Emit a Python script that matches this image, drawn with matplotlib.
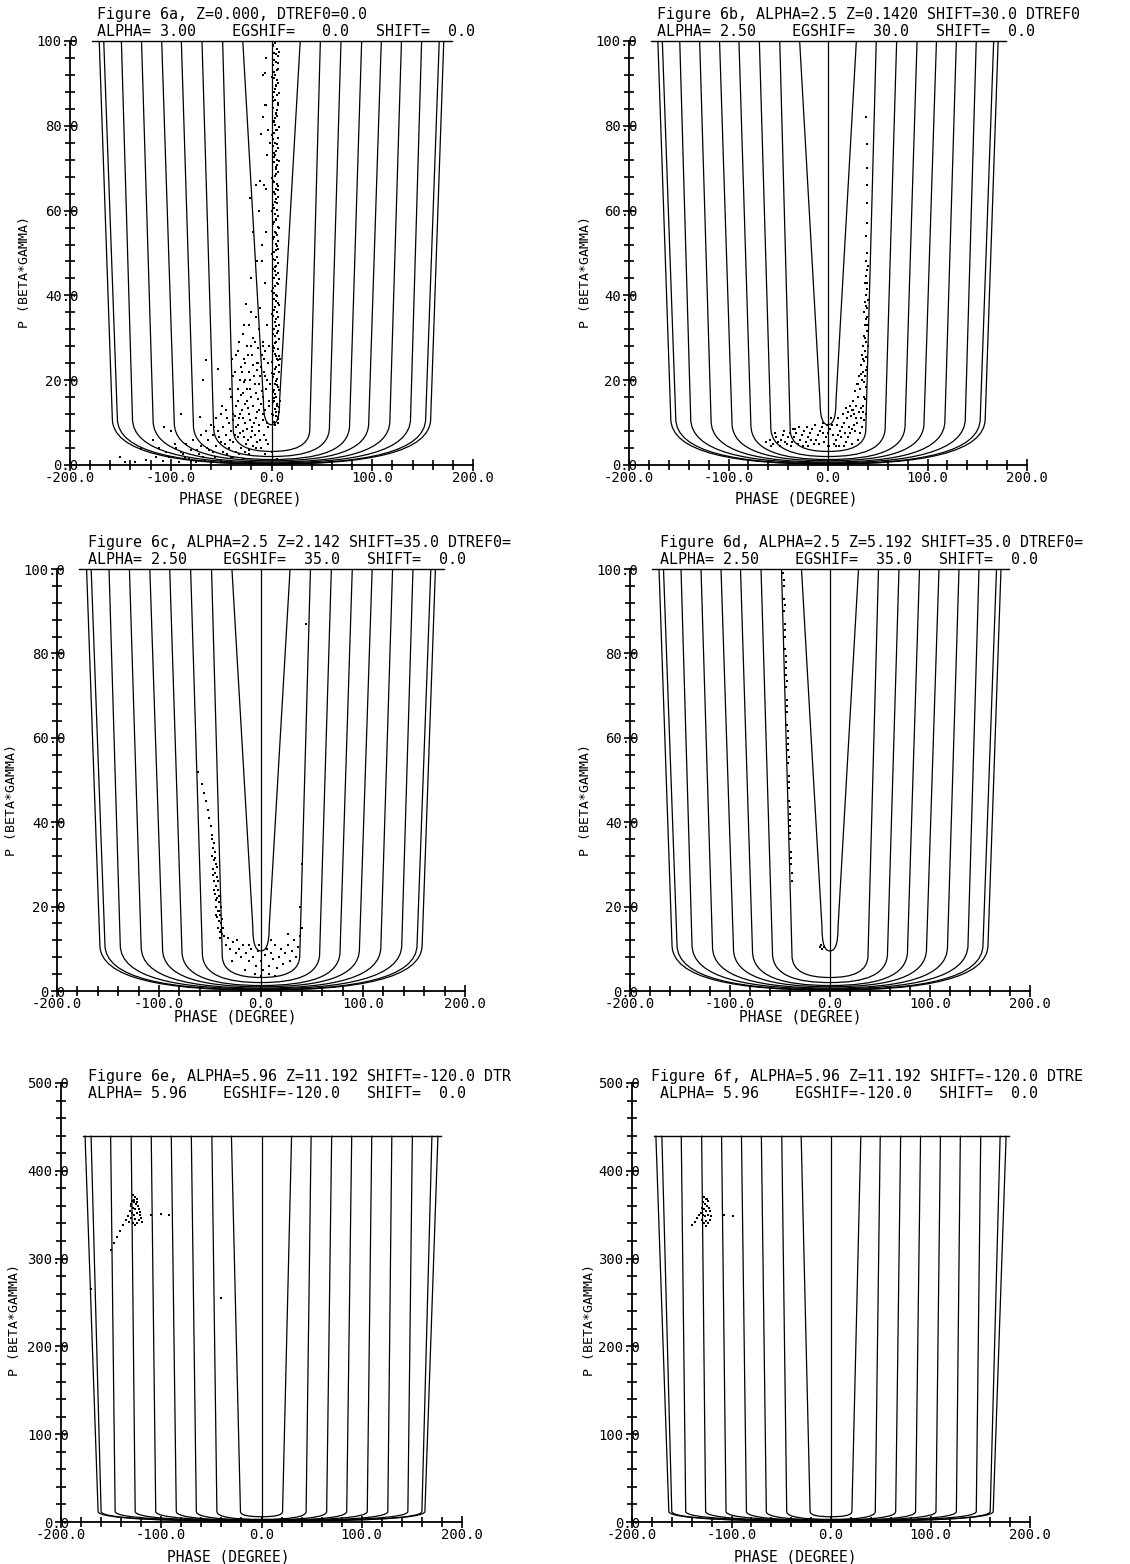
import matplotlib
matplotlib.use('Agg')
import matplotlib.pyplot as plt
from matplotlib.path import Path
from matplotlib.patches import PathPatch
from matplotlib.ticker import MultipleLocator, FormatStrFormatter

plt.rcParams['font.family'] = ['DejaVu Sans Mono']

W, H = 1130, 1564

# ---- trajectory curves (half widths read at top / knee, heights) ----
# panels a-d (top of curves at p=100)
TOP_AD = [171, 166.5, 149, 129, 109, 89.5, 69, 48.5, 28.5]
KNEE_AD = [158, 153, 138, 117.5, 96.5, 77.5, 57.5, 38, 8]
KNEE_P_AD = [11, 11, 11, 10.5, 10, 9.5, 9, 8.5, 15]
FLOOR_AD = [0.2, 0.3, 0.5, 0.7, 1.0, 1.3, 2.0, 3.2, 9.5]
# panels e-f (top of curves at p=440)
TOP_EF = [176, 170, 150.5, 130, 110, 90, 70, 49.5, 30]
KNEE_EF = [163, 160, 146, 126, 105.5, 85, 65, 44.5, 21]
KNEE_P_EF = [12, 12, 12, 12, 12, 12, 12, 12, 12]
FLOOR_EF = [1, 1, 1.5, 1.5, 2, 2, 2.5, 3, 6]

# ---- particle dots ----
A_PHASE = [3, 5, 2, 6, 4, 1.5, 5.5, 3.5, 2.5, 6.5,
           4.5, 2, 5, 3, 6, 1, 4, 5.5, 2.5, 3.5,
           5, 2, 6, 3.5, 1.5, 4.5, 3, 5.5, 2, 4,
           6, 3, 1.5, 5, 4, 2.5, 6.5, 3.5, 1, 5,
           3, 4.5, 2, 6, 3.5, 5, 1.5, 4, 6.5, 2.5,
           5.5, 3, 4, 1.5, 6, 2.5, 5, 3.5, 0.5, 4.5,
           2, 6, 3.5, 5, 1, 4, 7, 2.5, 5.5, 3,
           4.5, 1.5, 6, 3, 5, 0.5, 4, 7, 2, 5.5,
           3, 6.5, 1, 4.5, 2.5, 5.5, 3.5, 0.5, 6, 2,
           1.5, 4, 6, 2, 5, 3.5, 1, 6, 4, 2,
           4, 1.5, 6, 2.5, 5.5, 4.5, 2, 6, 4.5, 2,
           6, 1, 4.5, 6, 4.5, 1, 3, 4.5, 6, 2,
           4.5, 2, 6, 4.5, 1, 3.5, 1, 6, 3, 1,
           5, 3, 1, 4, 6.5, 0, 7.5, 2, 7, 4,
           1, 7, 2.5, 6.5, 0.5, 4.5, 7, 1.5, 5, 3,
           7.5, 0.5, 5, 2.5, 7, 4, 0.5, 6.5, 3, 5.5,
           0.5, 4, 7, 2.5, 5.5, 0.5, 6.5, 3, 7, 1.5,
           5, 7.5, 0.5, 3, 6, 7.5, 2, 4.5, 7.5, 0,
           4, 7, 2, 5, 1.5, 7, 3, 6, 8, 8,
           -5, -8, -6, -10, -4, -7, -12, -5, -9, -6, -11, -4, -8, -13, -6,
           -6.6, -5, -8.3, -3.3, -1.7, -11.6, -15, -5, -21.6, -18, -14, -20, -9,
           -25, -20, -22, -15, -28, -18, -12, -32, -24, -8,
           -35, -27, -19, -14, -30, -22, -10, -38, -26, -17,
           -12, -33, -21, -28, -15, -40, -8, -24, -35, -18,
           -45, -29, -12, -50, -38, -22, -55, -32, -15, -42,
           -26, -60, -48, -35, -19, -65, -53, -40, -28, -12,
           -70, -58, -45, -33, -20, -78, -63, -50, -38, -25,
           -85, -70, -55, -42, -30, -15, -95, -80, -62, -48,
           -35, -22, -105, -88, -72, -56, -40, -28, -115, -98,
           -82, -66, -50, -125, -108, -92, -75, -60, -135, -145,
           -65, -53, -68, -107, -71, -90, -100, -118, -130, -150,
           -8, -5, -3, -10, -6, 0, 5, -2, -4, -7,
           -2, -6, -9, -13, -16, -20, -23, -26, -29, -31,
           -3, -7, -11, -14, -18, -21, -24, -27, -30, -33,
           -1, -5, -9, -13, -16, -20, -23, -26, -31, -36,
           -2, -6, -10, -14, -17, -21, -24, -28, -33, -38,
           -4, -8, -12, -16, -19, -23, -27, -31, -36, -41,
           -3, -7, -11, -14, -18, -22, -26, -32, -38, -44,
           -46, -52, -57, -44, -49, -41, -36, -39, -33, -27,
           -58, -64, -68, -74, -80, -86, -90, -96, -102, -112]
A_P = [99.5, 98.2, 97.1, 96.4, 95.0, 94.3, 93.1, 92.0, 91.2, 90.1,
       89.3, 88.0, 87.2, 86.1, 85.4, 84.2, 83.0, 82.3, 81.1, 80.2,
       79.0, 78.4, 77.2, 76.0, 75.3, 74.1, 73.2, 72.0, 71.4, 70.3,
       69.1, 68.2, 67.0, 66.3, 65.1, 64.4, 63.2, 62.0, 61.3, 60.1,
       59.2, 58.0, 57.3, 56.1, 55.0, 54.2, 53.4, 52.1, 51.0, 50.3,
       49.1, 48.3, 47.0, 46.2, 45.4, 44.1, 43.0, 42.3, 41.1, 40.0,
       39.2, 38.1, 37.3, 36.0, 35.2, 34.4, 33.1, 32.0, 31.2, 30.4,
       29.1, 28.0, 27.3, 26.2, 25.0, 24.3, 23.1, 22.0, 21.4, 20.2,
       19.0, 18.3, 17.1, 16.0, 15.2, 14.4, 13.1, 12.0, 11.3, 10.2,
       98.8, 96.9, 94.8, 92.6, 90.7, 88.6, 86.7, 84.8, 82.7, 80.8,
       78.9, 76.8, 74.7, 72.6, 70.8, 68.7, 66.8, 64.9, 62.7, 60.6,
       58.7, 56.8, 54.7, 52.8, 50.8, 48.7, 46.8, 44.7, 42.8, 40.6,
       38.7, 36.6, 34.8, 32.7, 30.9, 28.7, 26.8, 24.7, 22.6, 20.8,
       18.8, 16.7, 14.8, 12.6, 10.8, 35.7, 25.6, 17.7, 13.6, 11.6,
       99, 97.5, 95.5, 93.5, 91.5, 89.7, 87.8, 85.9, 83.8, 81.9,
       79.8, 77.9, 75.8, 73.6, 71.8, 69.7, 67.6, 65.7, 63.8, 61.7,
       59.8, 57.7, 55.8, 53.7, 51.7, 49.8, 47.6, 45.7, 43.8, 41.7,
       39.8, 37.7, 35.5, 33.8, 31.7, 29.8, 27.7, 25.8, 23.7, 21.8,
       19.8, 17.7, 15.7, 13.8, 11.7, 12.5, 9.5, 9.8, 15, 25,
       96, 92, 85, 78, 73, 66, 60, 55, 48, 43, 37, 33, 28, 24, 21,
       92.5, 85, 82, 79, 76, 67, 66, 65, 63, 55, 48, 44, 52,
       38, 36, 33, 35, 31, 30, 32, 29, 28, 29,
       26, 25, 26, 24, 23, 22, 23, 21, 20, 21,
       19, 18, 18, 17, 17, 16, 16, 15, 14, 14,
       13, 13, 13, 12, 12, 12, 11, 11, 11, 10,
       10, 9.5, 9, 9, 9, 8, 8, 8, 8, 8,
       7, 7, 7, 6.5, 6.5, 6, 6, 5.5, 5.5, 5,
       5, 4.5, 4.5, 4, 4, 4, 4, 3.5, 3.5, 3,
       3, 2.5, 3, 2.5, 2.5, 2, 2, 1.5, 2, 1.8,
       1.5, 1.2, 1, 1.2, 1, 0.8, 0.7, 0.6, 0.8, 0.6,
       24.7, 22.7, 20, 9, 11.4, 12, 8, 6, 4, 2,
       12, 6, 9, 4, 2.5, 3, 1.5, 15, 20, 25,
       28, 27, 26, 27.5, 29, 28, 26, 24, 22, 20,
       24, 22, 21, 22.5, 23.5, 20, 18, 19.5, 16.5, 15,
       19, 18, 17.5, 15.5, 19, 16, 13.5, 14.5, 12, 11.5,
       14, 13, 14.5, 12.5, 10, 10.5, 8.5, 11, 9.5, 10.5,
       10, 10.5, 9.5, 7, 8, 6, 6.5, 7.5, 7, 6,
       5, 7, 6, 5.5, 4.5, 3.5, 3, 2.5, 2, 2.5,
       5, 6.5, 9, 11, 14, 18, 22, 25, 27, 33,
       3, 4, 2, 3.5, 1, 2, 3, 5, 2, 4]

B_PHASE = [-62, -58, -55, -52, -50, -47, -45, -43, -40, -38,
           -36, -34, -32, -30, -28, -26, -24, -22, -20, -18,
           -16, -14, -12, -10, -8, -6, -4, -2, 0, 2,
           4, 6, 8, 10, 12, 14, 16, 18, 20, 22,
           24, 26, 28, 30, 32, 34, 36, 38, -5, 3,
           10, 15, 20, 25, 8, 16, 24, -20, -35, 0,
           22, 25, 28, 30, 27, 32, 29, 34, 31, 35,
           33, 36, 34, 37, 35, 38, 36, 39, 37, 38,
           36, 39, 37, 38, 39, 37, 38, 39, 38, 39,
           24, 33, 36, 38, 37, 39, 38, 40, 39, 40,
           26, 35, 18,
           -57, -53, -48, -44, -41, -37, -33, -29, -25, -21,
           -17, -13, -9, -5, -1, 1, 5, 9, 11, 13,
           17, 19, 21, 23, 27, 29, 31, 33, 35, 37,
           30, 33, 36, 38, 35, 37, 39, 38, 39, 40,
           38, 39, 39, 39, 39, 39, 38]
B_P = [5.5, 6, 5, 6.5, 5.5, 6, 7, 5.5, 6.5, 7.5,
       5.5, 6.5, 7.5, 5, 6, 7, 8, 5.5, 6.5, 7.5,
       8.5, 5, 6, 7, 8, 9, 5.5, 6.5, 7.5, 8.5,
       9.5, 5, 6, 7, 8, 9, 10, 5.5, 6.5, 7.5,
       8.5, 9.5, 11, 6, 7.5, 9, 10.5, 12, 10, 11,
       11, 12, 12.5, 13, 4.5, 4.5, 5, 4.5, 8.5, 4.5,
       14, 15, 14, 16, 17.5, 18, 19, 20, 21, 22,
       23.5, 24.5, 26, 27, 28, 29, 30.5, 31.5, 33, 34.5,
       36, 37, 38.5, 40, 41.5, 43, 44.5, 46, 48, 50,
       13, 13.5, 16, 18.5, 21, 23, 25.5, 28, 35, 39,
       12, 12.5, 13.5,
       4.5, 7.5, 4.5, 8, 5, 4.5, 8.5, 9, 4.5, 9,
       6, 9.5, 5, 7.5, 9.5, 4.5, 7, 9.5, 4.5, 6.5,
       7.5, 11, 9, 11.5, 8, 10, 12.5, 11, 14, 15.5,
       19, 21.5, 19.5, 22.5, 25, 30, 33, 37.5, 43, 47,
       54, 57, 61.7, 66, 70, 75.8, 82]

C_PHASE = [-62, -58, -56, -54, -52, -51, -49, -48,
           -48, -46, -47, -45, -48, -46, -44, -47, -45, -43,
           -46, -44, -42, -45, -43, -41, -44, -42, -40, -43,
           -41, -39, -42, -40, -38, -36, -45, -43, -46, -41,
           -39, -44, -38, -40, -37, -47, -42, -44, -41, -39,
           -34, -30, -27, -25, -22, -20, -18, -15, -12, -10,
           -8, -5, -3, 0, 2, 4, 6, 8, 10, 12,
           14, 16, 18, 20, 22, 24, 26, 28, 30, 32,
           34, 36, 38, -28, -16, -6, 0, 8, 14, -2,
           -32, -24, -12, 10, 26, 40, 38, 40, 44]
C_P = [52, 49, 47, 45, 43, 41, 39, 37,
       36, 35, 34, 33, 32, 31, 30, 29, 28, 27,
       26, 25, 24, 23, 22, 21, 20, 19, 18, 17.5,
       16.5, 16, 15, 14, 13.5, 13, 31.5, 29.5, 24, 22.5,
       20, 18, 17, 12.5, 15, 27.5, 26, 21.5, 19, 14.5,
       11, 10, 11.5, 9, 10, 8, 11, 9, 7, 10,
       8, 6, 9.5, 7, 5, 8.5, 10, 6, 9, 7.5,
       11, 5.5, 8, 10, 6.5, 9, 11, 7, 9.5, 12,
       8, 10.5, 13, 7, 5, 4, 3.5, 4, 3.5, 11,
       12.5, 12, 11, 12, 13.5, 15, 20, 30, 87]

D_PHASE = [-47, -46.5, -46, -46, -45.5, -45, -45, -44.5, -44, -44,
           -43.5, -43, -43, -42.5, -42, -42, -41.5, -41, -41, -40.5,
           -40, -40, -39.5, -39, -38.5, -46, -45.5, -45, -44, -43.5,
           -43, -42.5, -41.5, -41, -40.5, -40, -39, -44.5, -42, -40.5,
           -38, -10, -8, -6, -9]
D_P = [99, 96, 93, 90, 87, 84, 81, 78, 75, 72,
       69, 66, 63, 60, 57, 54, 51, 48, 45, 42,
       39, 36, 33, 30, 28, 97.5, 91.5, 85.5, 79.5, 73.5,
       67.5, 61.5, 55.5, 49.5, 43.5, 37.5, 31.5, 76.5, 58.5, 40.5,
       26, 10.5, 10, 10.5, 11]

E_PHASE = [-128, -126, -124, -129, -127, -125, -123, -130, -128, -126,
           -122, -131, -129, -127, -124, -121, -133, -130, -126, -122,
           -120, -132, -128, -124, -119, -126, -130, -124, -127, -121,
           -150, -147, -144, -141, -138, -135, -110, -100, -92, -170, -40]
E_P = [372, 370, 368, 366, 364, 362, 360, 360, 358, 356,
       356, 354, 352, 350, 352, 350, 348, 346, 345, 344,
       346, 342, 340, 340, 342, 338, 362, 364, 367, 353,
       310, 318, 325, 332, 338, 344, 350, 351, 350, 265, 255]

F_PHASE = [-128, -126, -124, -129, -127, -125, -123, -130, -128, -126,
           -122, -131, -129, -127, -124, -121, -130, -126, -122, -128,
           -124, -126, -140, -137, -135, -133, -108, -98, -125]
F_P = [370, 368, 366, 364, 362, 360, 358, 358, 356, 354,
       354, 352, 350, 348, 350, 348, 344, 343, 344, 340,
       340, 337, 338, 342, 346, 350, 350, 349, 368]

TITLES = {
    'a': ('Figure 6a, Z=0.000, DTREF0=0.0',
          'ALPHA= 3.00    EGSHIF=   0.0   SHIFT=  0.0'),
    'b': ('Figure 6b, ALPHA=2.5 Z=0.1420 SHIFT=30.0 DTREF0',
          'ALPHA= 2.50    EGSHIF=  30.0   SHIFT=  0.0'),
    'c': ('Figure 6c, ALPHA=2.5 Z=2.142 SHIFT=35.0 DTREF0=',
          'ALPHA= 2.50    EGSHIF=  35.0   SHIFT=  0.0'),
    'd': ('Figure 6d, ALPHA=2.5 Z=5.192 SHIFT=35.0 DTREF0=',
          'ALPHA= 2.50    EGSHIF=  35.0   SHIFT=  0.0'),
    'e': ('Figure 6e, ALPHA=5.96 Z=11.192 SHIFT=-120.0 DTR',
          'ALPHA= 5.96    EGSHIF=-120.0   SHIFT=  0.0'),
    'f': ('Figure 6f, ALPHA=5.96 Z=11.192 SHIFT=-120.0 DTRE',
          ' ALPHA= 5.96    EGSHIF=-120.0   SHIFT=  0.0'),
}


def fx(x):
    return x / W


def fy(y):
    return 1 - y / H


def draw_curve(ax, top, knee, knee_p, floor_p, p_top):
    # one trajectory: straight walls down to the knee, rounded floor
    lift = floor_p + 0.25 * (knee_p - floor_p)
    verts = [(-top, p_top), (-knee, knee_p),
             (-knee, lift), (-0.6 * knee, floor_p), (0, floor_p),
             (0.6 * knee, floor_p), (knee, lift), (knee, knee_p),
             (top, p_top)]
    codes = [Path.MOVETO, Path.LINETO,
             Path.CURVE4, Path.CURVE4, Path.CURVE4,
             Path.CURVE4, Path.CURVE4, Path.CURVE4,
             Path.LINETO]
    ax.add_patch(PathPatch(Path(verts, codes), fill=False, lw=0.9,
                           ec='black', clip_on=False))


def draw_panel(key, box, curves, p_top, ymax, phase, p, title_xy, ylab_xy, xlab_xy):
    left, right, y0, y1 = box
    ax = plt.gcf().add_axes([fx(left), fy(y0), fx(right - left), (y0 - y1) / H])
    ax.set_xlim(-200, 200)
    ax.set_ylim(0, ymax)
    for s in ['top', 'right']:
        ax.spines[s].set_visible(False)
    for s in ['left', 'bottom']:
        ax.spines[s].set_linewidth(1.3)

    tops, knees, knee_ps, floors = curves
    for t, k, kp, fl in zip(tops, knees, knee_ps, floors):
        draw_curve(ax, t, k, kp, fl, p_top)
    ax.plot([0, 0], [0, p_top], color='black', lw=0.9, clip_on=False)
    ax.plot([-178, 179], [p_top, p_top], color='black', lw=1.0, clip_on=False)

    ax.scatter(phase, p, s=4, c='black', marker='s', linewidths=0, clip_on=False)

    ax.xaxis.set_major_locator(MultipleLocator(100))
    ax.xaxis.set_minor_locator(MultipleLocator(20))
    ax.xaxis.set_major_formatter(FormatStrFormatter('%.1f'))
    if ymax == 100:
        ax.yaxis.set_major_locator(MultipleLocator(20))
        ax.yaxis.set_minor_locator(MultipleLocator(4))
    else:
        ax.yaxis.set_major_locator(MultipleLocator(100))
        ax.yaxis.set_minor_locator(MultipleLocator(20))
    ax.yaxis.set_major_formatter(FormatStrFormatter('%.1f'))
    ax.tick_params(which='major', direction='inout', length=9, width=1.2, labelsize=10)
    ax.tick_params(which='minor', direction='inout', length=7, width=1.2)
    ax.tick_params(axis='y', which='major', pad=-10.5)
    ax.tick_params(axis='x', which='major', pad=0)

    t1, t2 = TITLES[key]
    tx, ty = title_xy
    plt.gcf().text(fx(tx), fy(ty), t1, fontsize=10.8, va='center', ha='left')
    plt.gcf().text(fx(tx), fy(ty + 17), t2, fontsize=10.8, va='center', ha='left')
    plt.gcf().text(fx(ylab_xy[0]), fy(ylab_xy[1]), 'P (BETA*GAMMA)', fontsize=9.5,
                   rotation=90, va='center', ha='center')
    plt.gcf().text(fx(xlab_xy[0]), fy(xlab_xy[1]), 'PHASE (DEGREE)', fontsize=10.5,
                   va='center', ha='center')


def main():
    plt.figure(figsize=(W / 100, H / 100), dpi=100)
    ad = (TOP_AD, KNEE_AD, KNEE_P_AD, FLOOR_AD)
    ef = (TOP_EF, KNEE_EF, KNEE_P_EF, FLOOR_EF)

    draw_panel('a', (70, 473, 465, 41), ad, 100, 100, A_PHASE, A_P,
               (97, 15), (25, 272), (240, 499))
    draw_panel('b', (629, 1027, 465, 41), ad, 100, 100, B_PHASE, B_P,
               (657, 15), (585, 272), (796, 499))
    draw_panel('c', (57, 465, 991, 569), ad, 100, 100, C_PHASE, C_P,
               (88, 543), (12, 800), (235, 1017))
    draw_panel('d', (630, 1030, 991, 569), ad, 100, 100, D_PHASE, D_P,
               (660, 543), (585, 800), (800, 1017))
    draw_panel('e', (61, 462, 1522, 1083), ef, 440, 500, E_PHASE, E_P,
               (88, 1076), (15, 1320), (228, 1557))
    draw_panel('f', (632, 1030, 1522, 1083), ef, 440, 500, F_PHASE, F_P,
               (651, 1076), (590, 1320), (795, 1557))

    plt.savefig('out.png', dpi=100, facecolor='white')


if __name__ == '__main__':
    main()
